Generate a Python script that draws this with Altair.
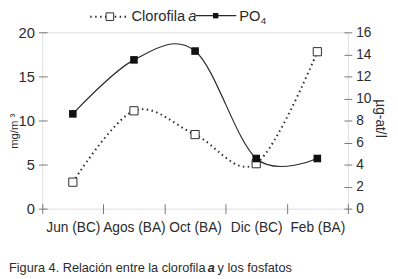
import altair as alt
import pandas as pd

# ---- data ----
months = ["Jun (BC)", "Agos (BA)", "Oct (BA)", "Dic (BC)", "Feb (BA)"]
clorofila = [3.0, 11.1, 8.4, 5.1, 17.8]      # mg/m3 (left axis)
po4 = [8.6, 13.5, 14.3, 4.55, 4.55]          # ug-at/l (right axis)
left_ticks = [0, 5, 10, 15, 20]
right_ticks = [0, 2, 4, 6, 8, 10, 12, 14, 16]

df = pd.DataFrame({"mes": months, "clorofila": clorofila, "po4": po4})

FONT = "Liberation Sans"
INK = "#2b2b2b"
AX = "#777777"
W, H = 312, 180

xscale = alt.Scale(type="band", domain=months, paddingInner=0, paddingOuter=0)
x_axis = alt.Axis(title=None, tickBand="extent", domain=False, offset=-5, tickSize=10,
                  tickColor=AX, labelPadding=7, labelAngle=0, labelFont=FONT,
                  labelFontSize=14, labelColor=INK, grid=False)
x_enc = alt.X("mes:N", scale=xscale, sort=months, axis=x_axis)

yl = alt.Y("clorofila:Q", scale=alt.Scale(domain=[0, 20], nice=False, zero=True),
           axis=alt.Axis(orient="left", values=left_ticks, title=None, domain=False,
                         offset=-5, tickSize=9, tickColor=AX, labelPadding=4,
                         labelFont=FONT, labelFontSize=15, labelColor=INK, grid=False))
yr = alt.Y("po4:Q", scale=alt.Scale(domain=[0, 16], nice=False, zero=True),
           axis=alt.Axis(orient="right", values=right_ticks, title=None, domain=False,
                         offset=-4, tickSize=8, tickColor=AX, labelPadding=4,
                         labelFont=FONT, labelFontSize=14, labelColor=INK, grid=False))

base = alt.Chart(df)
cl_line = base.mark_line(interpolate="cardinal", strokeDash=[1.5, 3.5], strokeWidth=2,
                         color=INK).encode(x=x_enc, y=yl)
cl_pts = base.mark_square(size=70, fill="white", stroke=INK, strokeWidth=1,
                          opacity=1).encode(x=x_enc, y=yl)
po_line = base.mark_line(interpolate="cardinal", strokeWidth=1.2,
                         color=INK).encode(x=x_enc, y=yr)
po_pts = base.mark_square(size=60, color="#111111", opacity=1).encode(x=x_enc, y=yr)

left = alt.layer(cl_line, cl_pts)
right = alt.layer(po_line, po_pts)

one = alt.Data(values=[{}])

def txt(s, x, y, size=15, angle=0, style="normal", weight="normal", align="left",
        baseline="middle"):
    return alt.Chart(one).mark_text(font=FONT, fontSize=size, color=INK, angle=angle,
                                    fontStyle=style, fontWeight=weight, align=align,
                                    baseline=baseline).encode(
        x=alt.value(x), y=alt.value(y), text=alt.value(s))

LY = -17
leg = [
    alt.Chart(one).mark_rule(strokeDash=[1.5, 3.5], strokeWidth=2, color=INK).encode(
        x=alt.value(49), x2=alt.value(88), y=alt.value(LY + 1)),
    alt.Chart(one).mark_square(size=60, fill="white", stroke=INK, strokeWidth=1, opacity=1).encode(
        x=alt.value(69), y=alt.value(LY + 1)),
    txt("Clorofila", 91, LY),
    txt("a", 149, LY, style="italic"),
    alt.Chart(one).mark_rule(strokeWidth=1.2, color=INK).encode(
        x=alt.value(157), x2=alt.value(198), y=alt.value(LY)),
    alt.Chart(one).mark_square(size=30, color="#111111", opacity=1).encode(
        x=alt.value(177), y=alt.value(LY)),
    txt("PO", 201, LY),
    txt("4", 223, LY + 5, size=10),
    # axis titles
    txt("mg/m \u00b3", -24.8, 101, size=11.5, angle=270, align="center", baseline="alphabetic"),
    txt("\u00b5g-at/l", 341, 88, size=14, angle=90, align="center", baseline="alphabetic"),
    # caption
    txt("Figura 4. Relación entre la clorofila", -34, 241, size=13),
    txt("a", 169, 241, size=13, style="italic", weight="bold"),
    txt("y los fosfatos", 179, 241, size=13),
]

chart = alt.layer(alt.layer(left, right).resolve_scale(y="independent"), *leg).properties(
    width=W, height=H, autosize="none",
    padding={"left": 35, "top": 22, "right": 43, "bottom": 69},
).configure_view(stroke=AX, strokeWidth=1).configure(background="white")

chart.save("out.html", embed_options={"renderer": "svg", "actions": False})
